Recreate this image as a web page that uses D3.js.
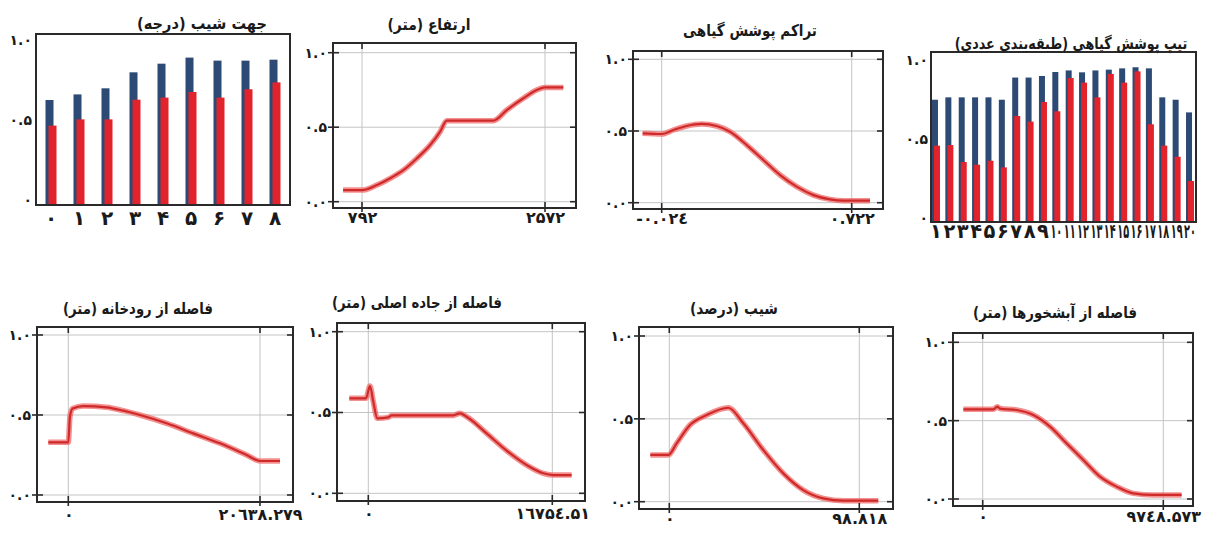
<!DOCTYPE html>
<html lang="fa">
<head>
<meta charset="utf-8">
<script src="https://cdn.jsdelivr.net/npm/d3@7"></script>
<style>
  html, body { margin: 0; padding: 0; background: #fff; }
  svg { display: block; }
  text { font-family: "DejaVu Sans", "Noto Sans", sans-serif; font-weight: bold; fill: #1a1a1a; }
</style>
</head>
<body>
<svg id="chart" width="1223" height="537"></svg>
<script>
// ---------- data ----------
// Bar panel: slope aspect classes
const aspectCats = ["۰", "۱", "۲", "۳", "۴", "۵", "۶", "۷", "۸"];
const aspectBlue = [0.65, 0.685, 0.723, 0.823, 0.877, 0.915, 0.896, 0.896, 0.902];
const aspectRed  = [0.49, 0.529, 0.529, 0.652, 0.665, 0.70, 0.665, 0.717, 0.76];

// Bar panel: vegetation type classes
const vegCats = ["۱","۲","۳","۴","۵","۶","۷","۸","۹","۱۰","۱۱","۱۲","۱۳","۱۴","۱۵","۱۶","۱۷","۱۸","۱۹","۲۰"];
const vegBlue = [0.77, 0.785, 0.785, 0.785, 0.785, 0.77, 0.91, 0.91, 0.92, 0.945, 0.955, 0.943, 0.955, 0.96, 0.968, 0.975, 0.968, 0.785, 0.77, 0.69];
const vegRed  = [0.48, 0.484, 0.377, 0.36, 0.385, 0.343, 0.667, 0.632, 0.756, 0.697, 0.907, 0.878, 0.785, 0.933, 0.878, 0.949, 0.615, 0.48, 0.41, 0.257];

// Response curves
const elevX = [608, 792, 938, 1067, 1197, 1326, 1455, 1552, 1617, 2070, 2200, 2362, 2491, 2572, 2750];
const elevY = [0.078, 0.078, 0.112, 0.157, 0.213, 0.291, 0.380, 0.470, 0.544, 0.544, 0.615, 0.694, 0.749, 0.767, 0.767];
const elevTicks = [792, 2572];
const elevTickLabels = ["۷۹۲", "۲۵۷۲"];

const ndviX = [-0.099, -0.024, 0.022, 0.074, 0.133, 0.192, 0.244, 0.310, 0.375, 0.441, 0.506, 0.572, 0.637, 0.689, 0.794];
const ndviY = [0.484, 0.479, 0.507, 0.535, 0.549, 0.535, 0.495, 0.402, 0.298, 0.193, 0.112, 0.053, 0.023, 0.014, 0.014];
const ndviTicks = [-0.024, 0.722];
const ndviTickLabels = ["-۰.۰۲٤", "۰.۷۲۲"];

const riverX = [-2153, 0, 180, 470, 1615, 4127, 5922, 7716, 10588, 13459, 16330, 19201, 20638, 22790];
const riverY = [0.329, 0.329, 0.49, 0.54, 0.556, 0.548, 0.527, 0.50, 0.448, 0.385, 0.323, 0.25, 0.2125, 0.2125];
const riverTicks = [0, 20638.279];
const riverTickLabels = ["۰", "۲۰٦۳۸.۲۷۹"];

const roadX = [-1730, -212, 152, 455, 819, 1821, 2125, 7739, 8346, 8953, 10774, 12595, 14416, 15934, 16844, 18514];
const roadY = [0.588, 0.588, 0.664, 0.567, 0.464, 0.470, 0.482, 0.482, 0.495, 0.474, 0.371, 0.264, 0.175, 0.124, 0.113, 0.113];
const roadTicks = [0, 16754.51];
const roadTickLabels = ["۰", "۱٦۷۵٤.۵۱"];

const slopeX = [-9.88, -0.52, 3.81, 10.75, 19.41, 30.68, 38.48, 48.89, 59.29, 69.69, 80.09, 90.49, 108.69];
const slopeY = [0.282, 0.282, 0.352, 0.463, 0.523, 0.567, 0.473, 0.312, 0.171, 0.070, 0.020, 0.006, 0.006];
const slopeTicks = [0, 98.818];
const slopeTickLabels = ["۰", "۹۸.۸۱۸"];

const waterX = [-1043, 576, 791, 935, 1834, 2734, 3633, 4532, 5432, 6331, 7230, 8130, 9209, 10738];
const waterY = [0.572, 0.572, 0.589, 0.577, 0.568, 0.536, 0.462, 0.355, 0.249, 0.143, 0.079, 0.036, 0.026, 0.026];
const waterTicks = [0, 9748.573];
const waterTickLabels = ["۰", "۹۷٤۸.۵۷۳"];

const lineYTicks = [0, 0.5, 1];
const lineYTickLabels = ["۰.۰", "۰.۵", "۱.۰"];
const barYTicks = [0, 0.5, 1];
const barYTickLabels = ["۰", "۰.۵", "۱.۰"];

// ---------- drawing ----------
const svg = d3.select("#chart");
svg.append("rect").attr("width", 1223).attr("height", 537).attr("fill", "#fff");

const BLUE = "#2c4a73";
const RED = "#e2232b";
const FRAME = "#2a2a2a";

// Persian titles: drawn at 16px, then narrowed horizontally to the given width
function title(txt, x, y, w) {
  const t = svg.append("text")
    .attr("x", 0).attr("y", 0)
    .attr("text-anchor", "middle")
    .attr("direction", "rtl")
    .style("font-size", "16px")
    .text(txt);
  const k = w / t.node().getComputedTextLength();
  t.attr("transform", `translate(${x},${y}) scale(${k},1)`);
}

function barPanel(L, cats, blue, red, ttl) {
  const g = svg.append("g");
  const x = d3.scaleBand().domain(cats).range([L.bx0, L.bx1]);
  const y = d3.scaleLinear().domain([0, 1]).range([L.y0, L.y1]);
  const c = d => x(d) + x.bandwidth() / 2;

  g.selectAll(".b").data(cats).join("rect")
    .attr("x", d => c(d) - L.bw / 2 - L.off / 2)
    .attr("width", L.bw)
    .attr("y", (d, i) => y(blue[i]))
    .attr("height", (d, i) => y(0) - y(blue[i]))
    .attr("fill", BLUE);
  g.selectAll(".r").data(cats).join("rect")
    .attr("x", d => c(d) - L.bw / 2 + L.off / 2)
    .attr("width", L.bw)
    .attr("y", (d, i) => y(red[i]))
    .attr("height", (d, i) => y(0) - y(red[i]))
    .attr("fill", RED);

  g.append("rect")
    .attr("x", L.fx0).attr("y", L.fy0)
    .attr("width", L.fx1 - L.fx0).attr("height", L.fy1 - L.fy0)
    .attr("fill", "none").attr("stroke", FRAME).attr("stroke-width", 2);

  // category labels; any label wider than its band is narrowed to fit
  const ax = g.append("g").attr("transform", `translate(0,${L.fy1})`)
    .call(d3.axisBottom(x).tickSize(0).tickPadding(L.xPad));
  ax.select(".domain").remove();
  ax.selectAll("text").attr("font-family", null).attr("font-size", null)
    .style("font-size", L.xFont + "px")
    .each(function () {
      const w = this.getComputedTextLength();
      const room = x.step() - 1.5;
      if (w > room) d3.select(this).attr("transform", `scale(${room / w},1)`);
    });

  const ay = g.append("g").attr("transform", `translate(${L.fx0 - L.yGap},0)`)
    .call(d3.axisLeft(y).tickValues(barYTicks).tickSize(0).tickPadding(0)
      .tickFormat((d, i) => barYTickLabels[i]));
  ay.select(".domain").remove();
  ay.selectAll("text").attr("font-family", null).attr("font-size", null)
    .attr("dy", "0.05em").style("font-size", "14px");

  title(ttl, L.tx, L.ty, L.tw);
}

function linePanel(L, xs, ys, xt, xtl, ttl) {
  const g = svg.append("g");
  const x = d3.scaleLinear().domain(xt).range([L.px0, L.px1]);
  const y = d3.scaleLinear().domain([0, 1]).range([L.py0, L.py1]);

  // grid
  g.selectAll(".gy").data(lineYTicks).join("line")
    .attr("x1", L.fx0).attr("x2", L.fx1)
    .attr("y1", d => y(d)).attr("y2", d => y(d))
    .attr("stroke", "#c4c4c4").attr("stroke-width", 1);
  g.selectAll(".gx").data(xt).join("line")
    .attr("y1", L.fy0).attr("y2", L.fy1)
    .attr("x1", d => x(d)).attr("x2", d => x(d))
    .attr("stroke", "#c4c4c4").attr("stroke-width", 1);

  // curve: soft halo under a darker core
  const pts = xs.map((v, i) => [v, ys[i]]);
  const line = d3.line().x(d => x(d[0])).y(d => y(d[1])).curve(d3.curveMonotoneX);
  g.append("path").attr("d", line(pts)).attr("fill", "none")
    .attr("stroke", "#ef6a6a").attr("stroke-opacity", 0.75).attr("stroke-width", 5.5)
    .attr("stroke-linejoin", "round").attr("stroke-linecap", "butt");
  g.append("path").attr("d", line(pts)).attr("fill", "none")
    .attr("stroke", "#cf2a2a").attr("stroke-width", 2.2)
    .attr("stroke-linejoin", "round");

  // frame
  g.append("rect")
    .attr("x", L.fx0).attr("y", L.fy0)
    .attr("width", L.fx1 - L.fx0).attr("height", L.fy1 - L.fy0)
    .attr("fill", "none").attr("stroke", FRAME).attr("stroke-width", 2);

  // tick marks across the frame
  const tk = g.append("g").attr("stroke", FRAME).attr("stroke-width", 1.6);
  lineYTicks.forEach(v => {
    tk.append("line").attr("x1", L.fx0 - 5).attr("x2", L.fx0 + 6).attr("y1", y(v)).attr("y2", y(v));
    tk.append("line").attr("x1", L.fx1 - 6).attr("x2", L.fx1 + 1).attr("y1", y(v)).attr("y2", y(v));
  });
  xt.forEach(v => {
    tk.append("line").attr("y1", L.fy1 - 6).attr("y2", L.fy1 + 4).attr("x1", x(v)).attr("x2", x(v));
    tk.append("line").attr("y1", L.fy0 - 1).attr("y2", L.fy0 + 6).attr("x1", x(v)).attr("x2", x(v));
  });

  // labels
  const ay = g.append("g").attr("transform", `translate(${L.fx0 - 6},0)`)
    .call(d3.axisLeft(y).tickValues(lineYTicks).tickSize(0).tickPadding(0)
      .tickFormat((d, i) => lineYTickLabels[i]));
  ay.select(".domain").remove();
  ay.selectAll("text").attr("font-family", null).attr("font-size", null)
    .style("font-size", "14px");

  const ax = g.append("g").attr("transform", `translate(0,${L.fy1})`)
    .call(d3.axisBottom(x).tickValues(xt).tickSize(0).tickPadding(L.xPad)
      .tickFormat((d, i) => xtl[i]));
  ax.select(".domain").remove();
  ax.selectAll("text").attr("font-family", null).attr("font-size", null)
    .style("font-size", "16px");

  title(ttl, L.tx, L.ty, L.tw);
}

// ---------- layout ----------
barPanel({ fx0: 36, fy0: 34, fx1: 290, fy1: 205, bx0: 37, bx1: 289, bw: 8, off: 3,
           y0: 204, y1: 44, yGap: 4, xPad: 6, xFont: 20, tx: 202, ty: 29, tw: 130 },
         aspectCats, aspectBlue, aspectRed, "جهت شیب (درجه)");

linePanel({ fx0: 333, fy0: 43, fx1: 576, fy1: 208, px0: 362, px1: 545, py0: 201.7, py1: 52.7,
            xPad: 4, tx: 429, ty: 30, tw: 83 },
          elevX, elevY, elevTicks, elevTickLabels, "ارتفاع (متر)");

linePanel({ fx0: 633, fy0: 51, fx1: 883, fy1: 209, px0: 661.7, px1: 851.7, py0: 202.7, py1: 59.3,
            xPad: 4, tx: 750, ty: 36, tw: 134 },
          ndviX, ndviY, ndviTicks, ndviTickLabels, "تراکم پوشش گیاهی");

barPanel({ fx0: 931, fy0: 52, fx1: 1196, fy1: 222, bx0: 929.3, bx1: 1196.7, bw: 6, off: 2,
           y0: 221.7, y1: 63.3, yGap: 3, xPad: 2, xFont: 20, tx: 1071, ty: 49, tw: 233 },
         vegCats, vegBlue, vegRed, "تیپ پوشش گیاهی (طبقه\u200cبندی عددی)");

linePanel({ fx0: 37, fy0: 327, fx1: 293, fy1: 502, px0: 68.3, px1: 260, py0: 495, py1: 335,
            xPad: 7, tx: 138, ty: 314, tw: 150 },
          riverX, riverY, riverTicks, riverTickLabels, "فاصله از رودخانه (متر)");

linePanel({ fx0: 337, fy0: 323, fx1: 585, fy1: 501, px0: 368.3, px1: 552.3, py0: 493.3, py1: 331.7,
            xPad: 7, tx: 417, ty: 308, tw: 170 },
          roadX, roadY, roadTicks, roadTickLabels, "فاصله از جاده اصلی (متر)");

linePanel({ fx0: 639, fy0: 327, fx1: 893, fy1: 509, px0: 669.3, px1: 859.3, py0: 501.7, py1: 336,
            xPad: 4, tx: 734, ty: 314, tw: 88 },
          slopeX, slopeY, slopeTicks, slopeTickLabels, "شیب (درصد)");

linePanel({ fx0: 953, fy0: 333, fx1: 1193, fy1: 506, px0: 982.7, px1: 1163.3, py0: 499, py1: 342.3,
            xPad: 5, tx: 1055, ty: 318, tw: 164 },
          waterX, waterY, waterTicks, waterTickLabels, "فاصله از آبشخورها (متر)");
</script>
</body>
</html>
